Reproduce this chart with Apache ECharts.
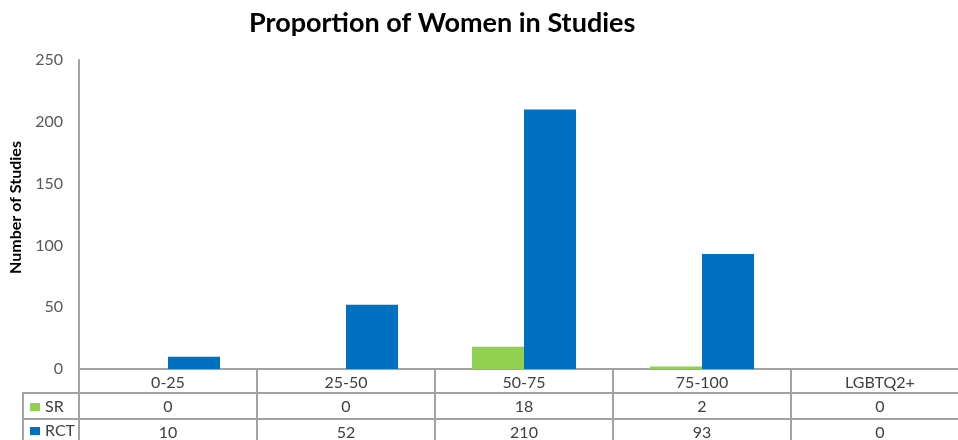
<!DOCTYPE html>
<html>
<head>
<meta charset="utf-8">
<script src="https://cdn.jsdelivr.net/npm/echarts@6/dist/echarts.min.js"></script>
<style>
  html, body { margin: 0; padding: 0; background: #ffffff; }
  #chart { width: 958px; height: 440px; }
</style>
</head>
<body>
<div id="chart"></div>
<script>
// Share of women among study participants, in percentage bands
const categories = ['0-25', '25-50', '50-75', '75-100', 'LGBTQ2+'];
const srValues = [0, 0, 18, 2, 0];
const rctValues = [10, 52, 210, 93, 0];
const yTicks = { min: 0, max: 250, step: 50 };

const LINE = '#a3a3a3';
const TEXT = '#404040';
const FONT = 'Lato, "Open Sans", sans-serif';

const chart = echarts.init(document.getElementById('chart'));

// Extra x axes act as the data-table rows below the plot
function tableRow(values, offset, tickLen) {
  return {
    type: 'category',
    data: categories,
    position: 'bottom',
    offset: offset,
    axisLine: { show: true, lineStyle: { color: LINE, width: 2 } },
    axisTick: { show: true, length: tickLen, lineStyle: { color: LINE, width: 2 } },
    axisLabel: {
      show: true, margin: 6, color: TEXT, fontFamily: FONT, fontSize: 16,
      formatter: (v, i) => String(values[i])
    }
  };
}

function legendRow(name, top) {
  return {
    data: [name],
    left: 30, top: top,
    padding: 0,
    itemWidth: 10, itemHeight: 8,
    icon: 'rect',
    textStyle: { fontFamily: FONT, fontSize: 16, color: TEXT }
  };
}

chart.setOption({
  animation: false,
  title: {
    text: 'Proportion of Women in Studies',
    left: 244, top: 5,
    textStyle: { fontFamily: FONT, fontWeight: 'bold', fontSize: 27, color: '#000000' }
  },
  legend: [legendRow('SR', 399), legendRow('RCT', 423)],
  grid: { left: 79, top: 60, width: 890, height: 309, outerBoundsMode: 'none' },
  xAxis: [
    {
      type: 'category',
      data: categories,
      position: 'bottom',
      axisLine: { show: true, lineStyle: { color: LINE, width: 2 } },
      axisTick: { show: true, length: 24, lineStyle: { color: LINE, width: 2 } },
      axisLabel: { margin: 6, color: TEXT, fontFamily: FONT, fontSize: 16 }
    },
    tableRow(srValues, 24, 26),
    tableRow(rctValues, 50, 30)
  ],
  yAxis: {
    type: 'value',
    min: yTicks.min, max: yTicks.max, interval: yTicks.step,
    name: 'Number of Studies',
    nameLocation: 'middle',
    nameRotate: 90,
    nameGap: 55,
    nameTextStyle: {
      fontFamily: FONT, fontWeight: 'bold', fontSize: 16, color: '#000000',
      padding: [0, 0, 0, 14]
    },
    axisLine: { show: true, lineStyle: { color: LINE, width: 2 } },
    axisTick: { show: false },
    splitLine: { show: false },
    axisLabel: { margin: 16, color: '#595959', fontFamily: FONT, fontSize: 16 }
  },
  series: [
    {
      name: 'SR', type: 'bar', data: srValues,
      barWidth: 52, barGap: '0%',
      itemStyle: { color: '#92D050' }
    },
    {
      name: 'RCT', type: 'bar', data: rctValues,
      barWidth: 52, barGap: '0%',
      itemStyle: { color: '#0070C0' }
    }
  ],
  graphic: [
    { type: 'line', shape: { x1: 23, y1: 393, x2: 79, y2: 393 }, style: { stroke: LINE, lineWidth: 2 } },
    { type: 'line', shape: { x1: 23, y1: 419, x2: 79, y2: 419 }, style: { stroke: LINE, lineWidth: 2 } },
    { type: 'line', shape: { x1: 23, y1: 392, x2: 23, y2: 440 }, style: { stroke: LINE, lineWidth: 2 } }
  ]
});
</script>
</body>
</html>
